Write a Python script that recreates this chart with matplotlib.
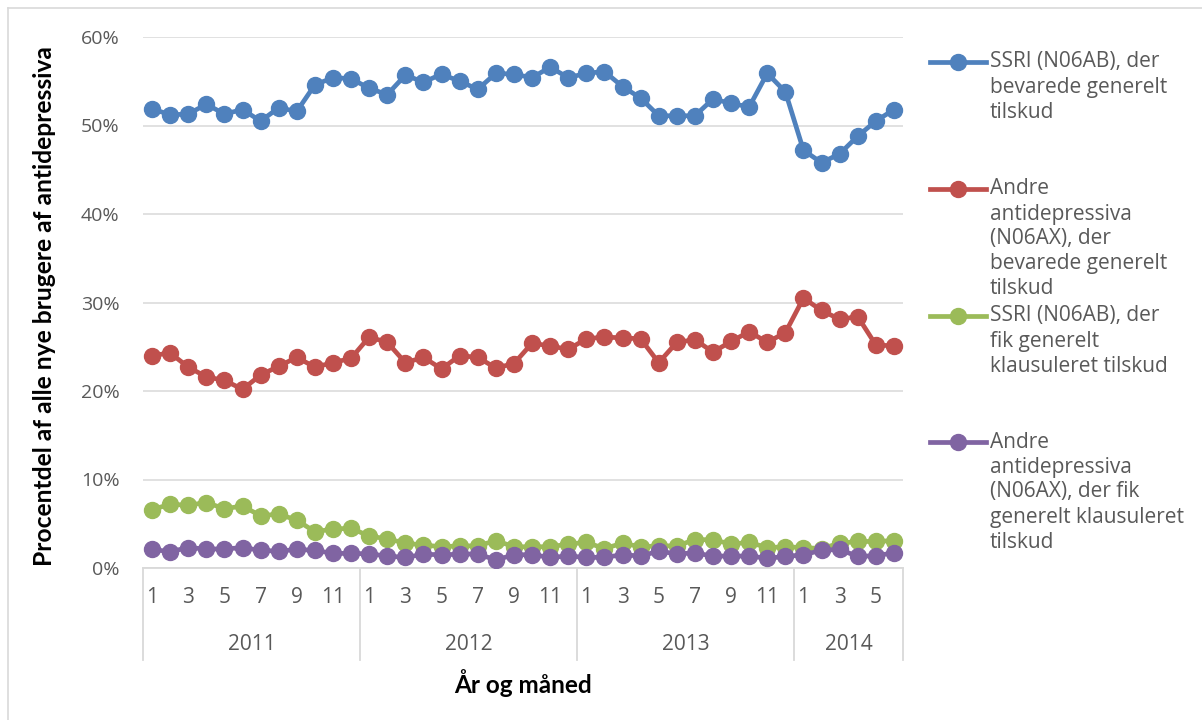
import matplotlib
matplotlib.use("Agg")
import matplotlib.pyplot as plt
from matplotlib.lines import Line2D
from matplotlib.ticker import PercentFormatter
import matplotlib.transforms as mtransforms
import numpy as np

plt.rcParams['font.family'] = ['Open Sans', 'DejaVu Sans']

years = ["2011", "2012", "2013", "2014"]
months_per_year = [12, 12, 12, 6]

ssri_gen = [51.9, 51.2, 51.3, 52.4, 51.3, 51.8, 50.5, 52.0, 51.6, 54.6, 55.4, 55.3,
            54.2, 53.5, 55.7, 54.9, 55.8, 55.0, 54.1, 55.9, 55.8, 55.4, 56.6, 55.4,
            55.9, 56.1, 54.4, 53.1, 51.1, 51.1, 51.1, 53.0, 52.5, 52.1, 55.9, 53.8,
            47.2, 45.8, 46.8, 48.8, 50.5, 51.8]
andre_gen = [24.0, 24.3, 22.7, 21.6, 21.2, 20.2, 21.8, 22.8, 23.8, 22.7, 23.2, 23.7,
             26.1, 25.5, 23.2, 23.8, 22.5, 24.0, 23.8, 22.6, 23.1, 25.4, 25.1, 24.7,
             25.9, 26.1, 26.0, 25.9, 23.2, 25.5, 25.8, 24.4, 25.6, 26.7, 25.5, 26.6,
             30.5, 29.1, 28.1, 28.4, 25.2, 25.1]
ssri_klaus = [6.6, 7.2, 7.1, 7.4, 6.7, 7.0, 5.9, 6.1, 5.4, 4.1, 4.4, 4.5,
              3.6, 3.3, 2.8, 2.6, 2.4, 2.5, 2.5, 3.1, 2.4, 2.4, 2.4, 2.7,
              2.9, 2.2, 2.8, 2.4, 2.5, 2.5, 3.2, 3.2, 2.7, 2.9, 2.3, 2.4,
              2.3, 2.2, 2.8, 3.0, 3.0, 3.1]
andre_klaus = [2.1, 1.85, 2.3, 2.15, 2.15, 2.3, 2.0, 1.9, 2.1, 2.0, 1.65, 1.65,
               1.6, 1.35, 1.2, 1.55, 1.5, 1.55, 1.6, 0.9, 1.5, 1.5, 1.2, 1.35,
               1.2, 1.2, 1.5, 1.35, 1.9, 1.6, 1.7, 1.35, 1.35, 1.35, 1.1, 1.3,
               1.5, 2.0, 2.1, 1.3, 1.4, 1.7]

series = [ssri_gen, andre_gen, ssri_klaus, andre_klaus]
labels = ["SSRI (N06AB), der\nbevarede generelt\ntilskud",
          "Andre\nantidepressiva\n(N06AX), der\nbevarede generelt\ntilskud",
          "SSRI (N06AB), der\nfik generelt\nklausuleret tilskud",
          "Andre\nantidepressiva\n(N06AX), der fik\ngenerelt klausuleret\ntilskud"]
colors = ["#4F81BD", "#C0504D", "#9BBB59", "#8064A2"]

W, H = 1202, 720
fig = plt.figure(figsize=(W / 100, H / 100), dpi=100)
L, R, T, B = 143, 903, 37, 568
ax = fig.add_axes([L / W, 1 - B / H, (R - L) / W, (B - T) / H])

n = sum(months_per_year)
x = np.arange(n)
for vals, c in zip(series, colors):
    ax.plot(x, np.array(vals) / 100, color=c, lw=3.4, marker='o', ms=11.5,
            solid_capstyle='round', zorder=3)

ax.set_xlim(-0.5, n - 0.5)
ax.set_ylim(0, 0.6)
ax.set_yticks(np.arange(0, 0.61, 0.1))
ax.yaxis.set_major_formatter(PercentFormatter(1.0, decimals=0))
ax.grid(axis='y', color='#D9D9D9', lw=1.1, zorder=0)
ax.set_axisbelow(True)
for s in ['top', 'right', 'left']:
    ax.spines[s].set_visible(False)
ax.spines['bottom'].set_color('#D9D9D9')
ax.spines['bottom'].set_linewidth(1.3)
ax.tick_params(axis='y', length=0, pad=17, labelsize=14, labelcolor='#595959')

# month tick labels (odd months)
ticks, ticklabels = [], []
start = 0
for m in months_per_year:
    for k in range(0, m, 2):
        ticks.append(start + k)
        ticklabels.append(str(k + 1))
    start += m
ax.set_xticks(ticks)
ax.set_xticklabels(ticklabels)
ax.tick_params(axis='x', length=0, pad=14, labelsize=15, labelcolor='#595959')

# year group labels and separators
trans = mtransforms.blended_transform_factory(ax.transData, ax.transAxes)
axh = B - T
sep_bottom = -(660 - B) / axh
year_y = -(645 - B) / axh
start = 0
bounds = [-0.5]
for yr, m in zip(years, months_per_year):
    ax.text(start + (m - 1) / 2, year_y, yr, transform=trans, ha='center', va='center',
            fontsize=15, color='#595959')
    start += m
    bounds.append(start - 0.5)
for b in bounds:
    ax.plot([b, b], [0, sep_bottom], transform=trans, color='#D9D9D9', lw=1.3, clip_on=False)

ax.set_ylabel("Procentdel af alle nye brugere af antidepressiva", fontsize=17.7,
              fontweight='bold', family='Lato', color='black')
ax.yaxis.set_label_coords(-(L - 45) / (R - L), (B - 306) / axh)
ax.yaxis.label.set_va('center')
ax.set_xlabel("År og måned", fontsize=17.5, fontweight='bold', family='Lato', color='black')
ax.xaxis.set_label_coords(0.5, -(683 - B) / axh)
ax.xaxis.label.set_va('center')

# legend (manual)
def fx(px):
    return px / W

def fy(py):
    return 1 - py / H

entry_y = [62, 189, 316, 442]
line_h = 25
for lab, c, ey in zip(labels, colors, entry_y):
    fig.add_artist(Line2D([fx(930), fx(986)], [fy(ey), fy(ey)], color=c, lw=3.4,
                          transform=fig.transFigure))
    fig.add_artist(Line2D([fx(958)], [fy(ey)], color=c, marker='o', ms=11.5,
                          transform=fig.transFigure))
    for i, line in enumerate(lab.split("\n")):
        fig.text(fx(990), fy(ey + i * line_h), line, ha='left', va='center',
                 fontsize=15, color='#595959')

# outer chart border (left and top visible)
fig.add_artist(Line2D([fx(8), fx(8)], [fy(8), fy(720)], color='#D9D9D9', lw=1.2,
                      transform=fig.transFigure))
fig.add_artist(Line2D([fx(8), fx(1202)], [fy(8), fy(8)], color='#D9D9D9', lw=1.2,
                      transform=fig.transFigure))

fig.savefig("out.png", dpi=100, facecolor='white')
